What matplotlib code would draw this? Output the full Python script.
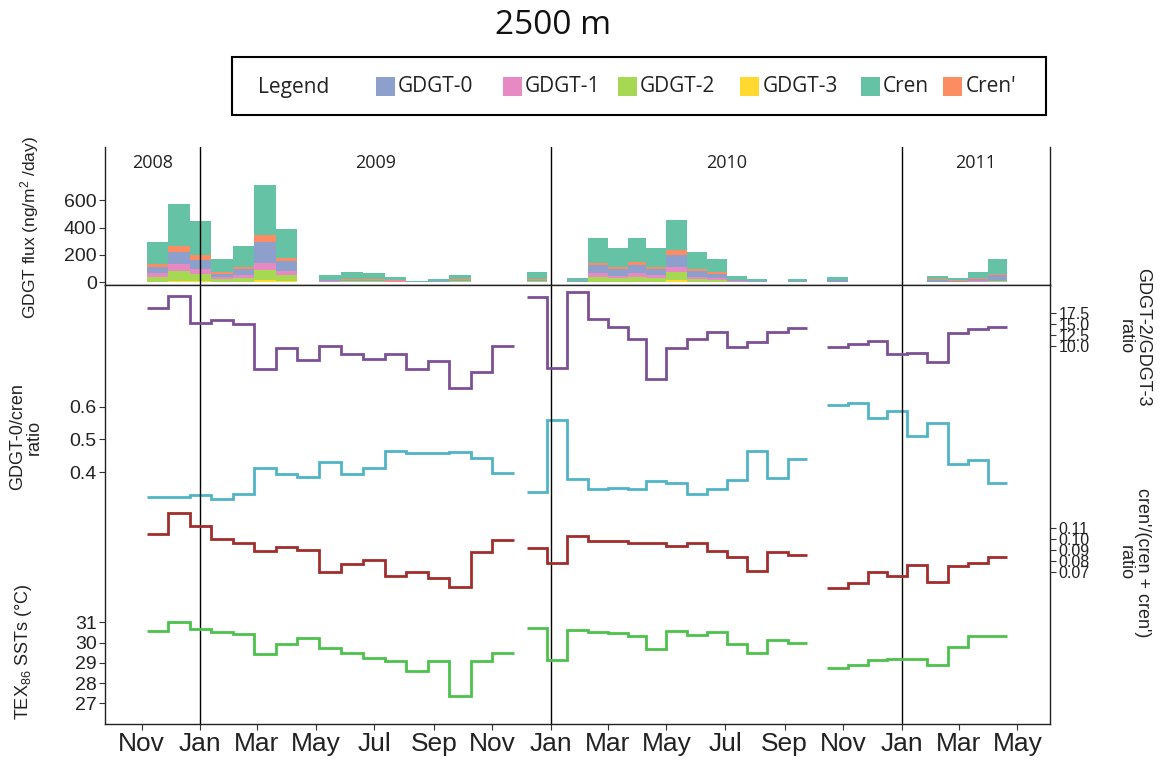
import numpy as np
import matplotlib
matplotlib.use("Agg")
import matplotlib.pyplot as plt
import matplotlib.dates as mdates
import matplotlib.transforms as mtransforms
from matplotlib.patches import Rectangle
from matplotlib.ticker import FormatStrFormatter

plt.rcParams['font.family'] = ['Liberation Sans', 'DejaVu Sans']
plt.rcParams['mathtext.fontset'] = 'custom'
plt.rcParams['mathtext.rm'] = 'Liberation Sans'
plt.rcParams['mathtext.it'] = 'Liberation Sans:italic'
plt.rcParams['mathtext.bf'] = 'Liberation Sans:bold'
plt.rcParams['mathtext.default'] = 'regular'

# ---------------- data ----------------
# sediment-trap cup boundaries for the three deployments
cup_edges_1 = ['2008-11-07', '2008-11-29', '2008-12-21', '2009-01-12', '2009-02-04', '2009-02-26',
               '2009-03-21', '2009-04-12', '2009-05-05', '2009-05-28', '2009-06-19', '2009-07-12',
               '2009-08-03', '2009-08-26', '2009-09-17', '2009-10-10', '2009-11-01', '2009-11-23']
cup_edges_2 = ['2009-12-07', '2009-12-28', '2010-01-18', '2010-02-08', '2010-03-01', '2010-03-22',
               '2010-04-10', '2010-05-01', '2010-05-22', '2010-06-12', '2010-07-03', '2010-07-24',
               '2010-08-14', '2010-09-04', '2010-09-24']
cup_edges_3 = ['2010-10-15', '2010-11-06', '2010-11-27', '2010-12-16', '2011-01-06', '2011-01-27',
               '2011-02-18', '2011-03-11', '2011-04-01', '2011-04-20']

# GDGT fluxes (ng/m2/day)
cren_1 = [162, 313, 250, 95, 150, 367, 215, 3, 38, 48, 43, 27, 5, 14, 35, 1.9, 1.9]
crenp_1 = [19, 42, 32, 10, 16, 49, 25, 0.5, 3, 5, 4, 2.5, 0.3, 1, 2, 0.2, 0.2]
gdgt0_1 = [48, 86, 70, 26, 45, 154, 70, 1, 7, 9, 9, 6, 1.2, 3.5, 9, 0.4, 0.4]
gdgt1_1 = [24, 49, 36, 13, 20, 48, 28, 0.2, 3, 4, 4, 3, 0.6, 1.5, 4, 0.2, 0.2]
gdgt2_1 = [36, 73, 52, 20, 29, 79, 46, 0.3, 4.5, 6, 5.5, 3.2, 0.8, 1.8, 5.7, 0.28, 0.28]
gdgt3_1 = [5, 12, 8, 3, 4, 13, 8, 0, 0.5, 1, 0.5, 0.3, 0.1, 0.2, 0.3, 0.02, 0.02]

cren_2 = [48, 2, 20, 180, 140, 178, 138, 225, 125, 95, 30, 15, 2, 15]
crenp_2 = [5, 0.2, 2, 18, 14, 18, 14, 37, 12, 9, 2.5, 1.2, 0.2, 1.3]
gdgt0_2 = [9, 0.4, 3.5, 60, 47, 62, 48, 86, 45, 33, 9, 5, 0.5, 5]
gdgt1_2 = [4, 0.2, 1.8, 25, 19, 25, 20, 37, 15, 12, 3, 1.6, 0.1, 1.5]
gdgt2_2 = [6.5, 0.2, 2.5, 36, 27, 36, 27, 56, 21, 16, 4, 2, 0.2, 2]
gdgt3_2 = [0.5, 0, 0.2, 4, 3, 4, 3, 17, 2, 2, 0.5, 0.2, 0, 0.2]

cren_3 = [18, 1.6, 1.6, 1.6, 1.6, 27, 17, 48, 105]
crenp_3 = [1, 0.1, 0.1, 0.1, 0.1, 2.5, 1, 4, 10]
gdgt0_3 = [11, 1, 1, 1, 1, 14, 9, 20, 40]
gdgt1_3 = [2, 0.1, 0.1, 0.1, 0.1, 2.5, 1.4, 2.5, 5]
gdgt2_3 = [2.8, 0.2, 0.2, 0.2, 0.2, 2.8, 1.5, 3.3, 6.6]
gdgt3_3 = [0.2, 0, 0, 0, 0, 0.2, 0.1, 0.2, 0.4]

# GDGT-2/GDGT-3 ratio
r23_1 = [18.7, 21.6, 15.2, 16.0, 15.0, 4.5, 9.4, 6.7, 10.0, 8.1, 6.9, 8.1, 4.5, 6.5, 0.1, 4.0, 10.0]
r23_2 = [21.2, 4.9, 22.4, 16.1, 14.4, 11.5, 2.4, 9.4, 11.5, 13.2, 9.8, 10.9, 13.2, 14.0]
r23_3 = [9.8, 10.4, 11.0, 8.0, 8.4, 6.2, 13.0, 13.8, 14.4]

# GDGT-0/cren ratio
r0c_1 = [0.326, 0.326, 0.330, 0.320, 0.334, 0.412, 0.395, 0.387, 0.431, 0.395, 0.412, 0.465,
         0.459, 0.459, 0.461, 0.443, 0.399]
r0c_2 = [0.339, 0.559, 0.379, 0.348, 0.352, 0.348, 0.374, 0.368, 0.334, 0.348, 0.377, 0.464, 0.383, 0.440]
r0c_3 = [0.605, 0.612, 0.566, 0.587, 0.511, 0.551, 0.425, 0.437, 0.368]

# cren'/(cren + cren') ratio
rcr_1 = [0.1048, 0.1236, 0.1121, 0.1000, 0.0969, 0.0894, 0.0927, 0.0903, 0.0700, 0.0773, 0.0812,
         0.0669, 0.0705, 0.0651, 0.0564, 0.0887, 0.0994]
rcr_2 = [0.0918, 0.0782, 0.1030, 0.0987, 0.0987, 0.0964, 0.0964, 0.0939, 0.0969, 0.0894, 0.0842,
         0.0712, 0.0887, 0.0857]
rcr_3 = [0.0555, 0.0600, 0.0705, 0.0669, 0.0766, 0.0609, 0.0760, 0.0787, 0.0842]

# TEX86 SSTs (deg C)
sst_1 = [30.59, 31.01, 30.67, 30.51, 30.42, 29.43, 29.93, 30.21, 29.72, 29.47, 29.25, 29.09,
         28.61, 29.09, 27.36, 29.10, 29.50]
sst_2 = [30.70, 29.14, 30.62, 30.51, 30.49, 30.32, 29.68, 30.59, 30.36, 30.51, 29.93, 29.50, 30.13, 29.99]
sst_3 = [28.76, 28.89, 29.14, 29.20, 29.20, 28.89, 29.80, 30.32, 30.32]

legend_names = ['GDGT-0', 'GDGT-1', 'GDGT-2', 'GDGT-3', 'Cren', "Cren'"]
stack_order = ['GDGT-3', 'GDGT-2', 'GDGT-1', 'GDGT-0', "Cren'", 'Cren']
years = [2008, 2009, 2010, 2011]
x_start, x_end = '2008-09-24', '2011-06-04'

# ---------------- styling ----------------
colors = {'GDGT-0': '#8DA0CB', 'GDGT-1': '#E78AC3', 'GDGT-2': '#A6D854',
          'GDGT-3': '#FFD92F', 'Cren': '#66C2A5', "Cren'": '#FC8D62'}
c_r23, c_r0c, c_rcr, c_sst = '#7D5096', '#4FB4C6', '#A22D2D', '#4CC24C'
LW = 2.0
W_PX, H_PX = 1163, 760

edges_all = [mdates.datestr2num(e) for e in (cup_edges_1, cup_edges_2, cup_edges_3)]
flux = {'Cren': [cren_1, cren_2, cren_3], "Cren'": [crenp_1, crenp_2, crenp_3],
        'GDGT-0': [gdgt0_1, gdgt0_2, gdgt0_3], 'GDGT-1': [gdgt1_1, gdgt1_2, gdgt1_3],
        'GDGT-2': [gdgt2_1, gdgt2_2, gdgt2_3], 'GDGT-3': [gdgt3_1, gdgt3_2, gdgt3_3]}
lines = [(r23_1, r23_2, r23_3), (r0c_1, r0c_2, r0c_3), (rcr_1, rcr_2, rcr_3), (sst_1, sst_2, sst_3)]

fig = plt.figure(figsize=(W_PX / 100, H_PX / 100), dpi=100)


def fx(px):
    return px / W_PX


def fy(py):
    return 1 - py / H_PX


L, R = 105, 1050
ax_bar = fig.add_axes([fx(L), fy(285), fx(R - L), (285 - 147) / H_PX])
low_rect = [fx(L), fy(724), fx(R - L), (724 - 285) / H_PX]
ax_base = fig.add_axes(low_rect)                 # GDGT-0/cren (left)
ax_sst = fig.add_axes(low_rect, sharex=ax_base)  # TEX86 (left)
ax_r23 = fig.add_axes(low_rect, sharex=ax_base)  # GDGT-2/3 (right)
ax_rcr = fig.add_axes(low_rect, sharex=ax_base)  # cren' ratio (right)

xlim = mdates.datestr2num([x_start, x_end])
for ax in (ax_bar, ax_base):
    ax.set_xlim(xlim)

# ---- stacked bars ----
for seg, edges in enumerate(edges_all):
    left = edges[:-1]
    width = np.diff(edges)
    bottom = np.zeros(len(left))
    for name in stack_order:
        vals = np.asarray(flux[name][seg], float)
        ax_bar.bar(left, vals, width=width, bottom=bottom, align='edge',
                   color=colors[name], linewidth=0)
        bottom += vals

ax_bar.set_ylim(-20, 990)
ax_bar.set_yticks([0, 200, 400, 600])
ax_bar.tick_params(axis='x', bottom=False, labelbottom=False)
ax_bar.spines['top'].set_visible(False)
for s in ('left', 'right', 'bottom'):
    ax_bar.spines[s].set_color('#222222')
    ax_bar.spines[s].set_linewidth(1.0)
ax_bar.set_ylabel('GDGT flux (ng/m$^2$ /day)', fontsize=12.5)
ax_bar.yaxis.set_label_coords((30 - L) / (R - L), 0.42)

# year labels
for yr in years:
    a = max(mdates.datestr2num(f'{yr}-01-01'), xlim[0])
    b = min(mdates.datestr2num(f'{yr + 1}-01-01'), xlim[1])
    ax_bar.text((a + b) / 2, (285 - 163) / 138, str(yr),
                transform=mtransforms.blended_transform_factory(ax_bar.transData, ax_bar.transAxes),
                ha='center', va='center', fontsize=13, family='Open Sans', color='#222222')
for yr in years[1:]:
    d = mdates.datestr2num(f'{yr}-01-01')
    ax_bar.axvline(d, color='black', lw=1.0)
    ax_base.axvline(d, color='black', lw=1.0)

# ---- step lines ----
line_axes = [ax_r23, ax_base, ax_rcr, ax_sst]
line_cols = [c_r23, c_r0c, c_rcr, c_sst]
for ax, series, col in zip(line_axes, lines, line_cols):
    for edges, vals in zip(edges_all, series):
        ax.stairs(vals, edges, baseline=None, color=col, lw=LW)

ax_base.set_ylim(-0.3674, 0.971)
ax_sst.set_ylim(25.978, 47.657)
ax_r23.set_ylim(-77.57, 24.05)
ax_rcr.set_ylim(-0.0679, 0.3312)

ax_base.set_yticks([0.4, 0.5, 0.6])
ax_base.yaxis.set_major_formatter(FormatStrFormatter('%.1f'))
ax_sst.set_yticks([27, 28, 29, 30, 31])
ax_r23.set_yticks([10.0, 12.5, 15.0, 17.5])
ax_r23.yaxis.set_major_formatter(FormatStrFormatter('%.1f'))
ax_rcr.set_yticks([0.07, 0.08, 0.09, 0.10, 0.11])
ax_rcr.yaxis.set_major_formatter(FormatStrFormatter('%.2f'))

for ax in (ax_sst, ax_r23, ax_rcr):
    ax.patch.set_visible(False)
    for s in ax.spines.values():
        s.set_visible(False)
    ax.tick_params(axis='x', bottom=False, labelbottom=False)
for ax in (ax_r23, ax_rcr):
    ax.yaxis.tick_right()
    ax.yaxis.set_label_position('right')
for s in ax_base.spines.values():
    s.set_color('#222222')
    s.set_linewidth(1.0)

for ax in (ax_bar, ax_base, ax_sst):
    ax.tick_params(axis='y', direction='out', length=4, width=0.8, color='#333333',
                   labelsize=14, pad=2, labelcolor='#222222')
for ax in (ax_r23, ax_rcr):
    ax.tick_params(axis='y', direction='out', length=4, width=0.8, color='#333333',
                   labelsize=11.5, pad=2, labelcolor='#222222')

ax_base.xaxis.set_major_locator(mdates.MonthLocator(bymonth=[1, 3, 5, 7, 9, 11]))
ax_base.xaxis.set_major_formatter(mdates.DateFormatter('%b'))
ax_base.tick_params(axis='x', direction='out', length=4, width=0.8, color='#333333',
                    labelsize=19, pad=2, labelcolor='#222222')

# axis labels
label_specs = [
    (ax_base, 'GDGT-0/cren\nratio', 26, 437, 90),
    (ax_sst, 'TEX$_{86}$ SSTs (°C)', 23, 652, 90),
    (ax_r23, 'GDGT-2/GDGT-3\nratio', 1134, 337, -90),
    (ax_rcr, "cren'/(cren + cren')\nratio", 1134, 563, -90),
]
for ax, txt, px, py, rot in label_specs:
    ax.set_ylabel(txt, fontsize=13, color='#222222', linespacing=1.0)
    ax.yaxis.set_label_coords((px - L) / (R - L), (724 - py) / (724 - 285))
    lab = ax.yaxis.label
    lab.set_rotation(rot)
    lab.set_rotation_mode('anchor')
    lab.set_va('center')
    lab.set_ha('center')
    lab.set_multialignment('center')
lab = ax_bar.yaxis.label
lab.set_rotation_mode('anchor')
lab.set_va('center')
lab.set_ha('center')
ax_bar.yaxis.label.set_color('#222222')

# ---- title ----
fig.text(fx(553), fy(26), '2500 m', ha='center', va='center', fontsize=24,
         family='Open Sans', color='#111111')

# ---- legend (boxed, single row) ----
box = Rectangle((fx(232), fy(115)), fx(1046 - 232), (115 - 57) / H_PX, transform=fig.transFigure,
                fill=False, edgecolor='black', linewidth=1.5)
fig.add_artist(box)
fig.text(fx(258), fy(87), 'Legend', ha='left', va='center', fontsize=15,
         family='Open Sans', color='#222222')
swatch_x = [375.5, 502.7, 617.6, 740, 860.6, 943]
for name, sx in zip(legend_names, swatch_x):
    fig.add_artist(Rectangle((fx(sx), fy(96)), fx(19), 19 / H_PX, transform=fig.transFigure,
                             facecolor=colors[name], edgecolor='none'))
    fig.text(fx(sx + 22.5), fy(87), name, ha='left', va='center', fontsize=15,
             family='Open Sans', color='#222222')

fig.savefig('out.png', dpi=100)
